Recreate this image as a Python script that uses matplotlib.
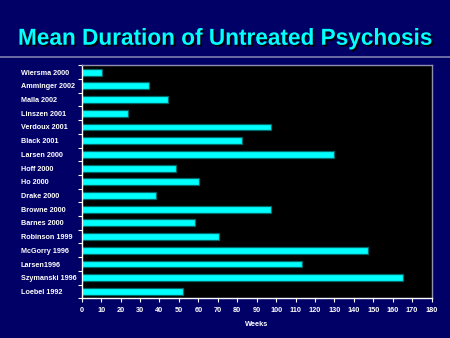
import numpy as np
import matplotlib.pyplot as plt
import matplotlib.patheffects as pe
from matplotlib.textpath import TextPath
from matplotlib.patches import PathPatch
from matplotlib.font_manager import FontProperties
from matplotlib.transforms import Affine2D, IdentityTransform

# Studies and mean duration of untreated psychosis (weeks)
studies = ['Wiersma 2000', 'Amminger 2002', 'Malla 2002', 'Linszen 2001',
           'Verdoux 2001', 'Black 2001', 'Larsen 2000', 'Hoff 2000', 'Ho 2000',
           'Drake 2000', 'Browne 2000', 'Barnes 2000', 'Robinson 1999',
           'McGorry 1996', 'Larsen1996', 'Szymanski 1996', 'Loebel 1992']
weeks = [10.5, 34.5, 44.5, 24, 97.5, 82.5, 130, 48.5, 60.5,
         38, 97.5, 58.5, 70.5, 147.5, 113.5, 165.5, 52]
xticks = list(range(0, 181, 10))
title = 'Mean Duration of Untreated Psychosis'

navy = '#000066'
cyan = '#00FFFF'
font = ['Liberation Sans', 'DejaVu Sans']

fig = plt.figure(figsize=(4.5, 3.38), dpi=100, facecolor=navy)

# Condensed title: bold glyph outlines squeezed into the header box (pixels)
tp = TextPath((0, 0), title, size=20, prop=FontProperties(family='Liberation Sans', weight='bold'))
ext = tp.get_extents()
x0, y0, x1, y1 = 19.5, 288.5, 431.5, 310
squeeze = Affine2D().translate(-ext.x0, -ext.y0) \
    .scale((x1 - x0) / ext.width, (y1 - y0) / ext.height).translate(x0, y0)
fig.add_artist(PathPatch(squeeze.transform_path(tp), transform=IdentityTransform(),
                         facecolor=cyan, edgecolor='none',
                         path_effects=[pe.SimplePatchShadow(offset=(1.3, -1.3), shadow_rgbFace='black', alpha=0.9),
                                       pe.Normal()]))
fig.add_artist(plt.Line2D([0, 1], [0.830, 0.830], color='#8080b0', lw=1.2))

ax = fig.add_axes([0.1816, 0.1175, 0.7774, 0.6893])
ax.set_facecolor('black')

y = np.arange(len(studies))
ax.barh(y, weeks, height=0.5, color=cyan, edgecolor='#006868', linewidth=0.9)

ax.set_ylim(len(studies) - 0.5, -0.5)
ax.set_xlim(0, 180)
ax.set_yticks(y)
ax.set_yticklabels(studies, ha='left')
ax.set_yticks(np.arange(len(studies) + 1) - 0.5, minor=True)
ax.tick_params(axis='y', which='major', length=0, pad=44, labelcolor='white', labelsize=5.2)
ax.tick_params(axis='y', which='minor', length=3, color='white', width=0.8)
ax.set_xticks(xticks)
ax.tick_params(axis='x', length=3, color='white', width=0.8, labelcolor='white', labelsize=5.3)
for lbl in ax.get_xticklabels() + ax.get_yticklabels():
    lbl.set_fontweight('bold')
    lbl.set_family(font)

ax.set_xlabel('Weeks', color='white', fontsize=5.3, fontweight='bold', family=font, labelpad=5)

ax.spines['left'].set_color('white')
ax.spines['bottom'].set_color('white')
ax.spines['top'].set_color('#9090b0')
ax.spines['right'].set_color('#9090b0')
for s in ax.spines.values():
    s.set_linewidth(1)

fig.savefig('out.png', dpi=100, facecolor=navy)
